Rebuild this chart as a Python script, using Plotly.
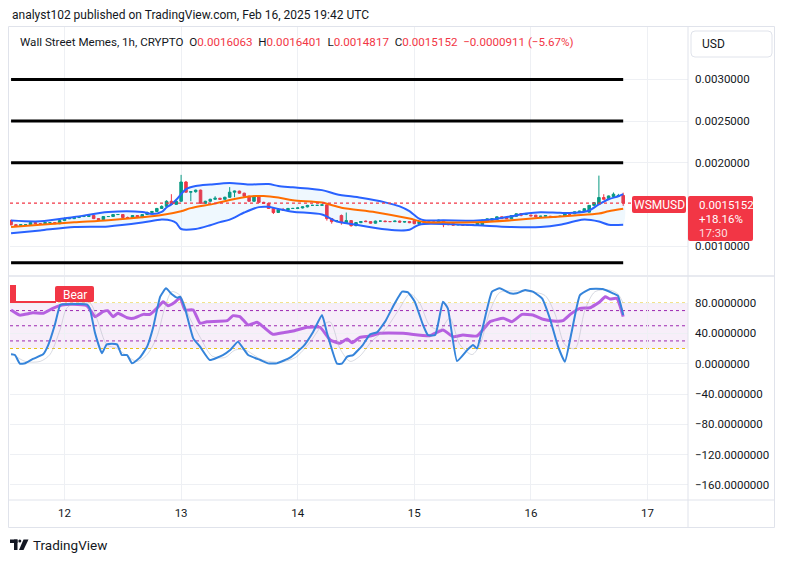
import plotly.graph_objects as go
import pandas as pd

# ---------------- data (prices in micro-units: value * 1e-6) ----------------
DAY0 = pd.Timestamp("2025-02-12 00:00")
FIRST_HOUR = -11  # first candle: 2025-02-11 13:00, hourly candles
U = 1e-6

OPEN_U = [1305,1256,1244,1256,1256,1281,1268,1268,1281,1281,1268,
          1305,1329,1329,1342,1354,1354,1366,1329,1317,1354,
          1354,1378,1378,1342,1342,1366,1342,1378,1402,1415,
          1451,1476,1537,1500,1537,1768,1646,1652,1671,1512,
          1537,1561,1573,1561,1585,1646,1659,1634,1598,1537,
          1598,1524,1512,1451,1402,1439,1433,1451,1451,1457,
          1470,1488,1488,1488,1494,1329,1293,1366,1281,1305,
          1244,1281,1299,1293,1274,1299,1299,1293,1293,1299,
          1287,1293,1305,1268,1293,1287,1287,1287,1299,1274,
          1268,1256,1256,1250,1250,1252,1256,1296,1309,1317,
          1350,1345,1326,1357,1390,1378,1370,1370,1357,1357,
          1357,1350,1357,1357,1378,1387,1406,1418,1406,1488,
          1500,1582,1570,1594,1598,1606.3]
CLOSE_U = [1256,1244,1256,1256,1281,1268,1268,1281,1281,1268,1305,
           1329,1329,1342,1354,1354,1366,1329,1317,1354,1354,
           1378,1378,1342,1342,1366,1342,1378,1402,1415,1451,
           1476,1537,1500,1537,1768,1646,1652,1671,1512,1537,
           1561,1573,1561,1585,1646,1659,1634,1598,1537,1598,
           1524,1512,1451,1402,1439,1433,1451,1451,1457,1470,
           1488,1488,1488,1494,1329,1293,1305,1281,1305,1244,
           1281,1293,1293,1274,1299,1299,1293,1293,1299,1287,
           1293,1281,1268,1293,1287,1287,1287,1311,1256,1256,
           1250,1256,1250,1250,1256,1277,1309,1326,1329,1350,
           1329,1326,1366,1387,1370,1378,1362,1350,1357,1366,
           1354,1350,1357,1387,1378,1411,1418,1448,1488,1521,
           1582,1561,1601,1622,1606,1515.2]
HIGH_U = [1317,1262,1260,1262,1293,1287,1274,1287,1287,1287,1311,
          1342,1342,1354,1360,1360,1372,1372,1335,1360,1360,
          1384,1384,1384,1354,1372,1372,1384,1415,1421,1457,
          1488,1549,1622,1549,1854,1781,1659,1677,1677,1543,
          1567,1598,1579,1592,1707,1665,1665,1640,1604,1604,
          1604,1531,1518,1457,1445,1457,1457,1457,1463,1476,
          1494,1494,1494,1500,1500,1335,1311,1378,1402,1311,
          1287,1299,1305,1299,1305,1305,1305,1299,1305,1305,
          1299,1299,1311,1299,1299,1293,1293,1317,1305,1281,
          1274,1262,1262,1256,1262,1281,1317,1329,1335,1354,
          1354,1350,1370,1390,1396,1384,1378,1374,1362,1370,
          1362,1354,1362,1390,1384,1415,1423,1451,1492,1524,
          1845,1622,1606,1643,1626,1640.1]
LOW_U = [1244,1238,1238,1250,1250,1262,1262,1262,1274,1262,1262,
         1299,1323,1323,1335,1348,1348,1323,1305,1311,1348,
         1348,1372,1335,1335,1335,1335,1335,1372,1396,1409,
         1445,1470,1494,1494,1531,1640,1537,1640,1506,1506,
         1531,1555,1555,1555,1579,1585,1628,1592,1531,1531,
         1518,1506,1445,1384,1396,1421,1427,1445,1445,1451,
         1463,1482,1482,1482,1305,1268,1287,1256,1274,1232,
         1238,1274,1287,1268,1268,1293,1287,1287,1287,1281,
         1281,1274,1262,1262,1281,1281,1281,1281,1226,1250,
         1244,1250,1244,1244,1244,1250,1250,1293,1305,1311,
         1323,1323,1323,1354,1357,1372,1357,1345,1350,1354,
         1350,1345,1354,1354,1372,1382,1402,1415,1402,1484,
         1496,1555,1561,1589,1594,1481.7]

# Bollinger bands (hour offset from Feb 12 00:00, micro-units)
UPPER_H = [-11,-5,2,9,16,18,20,21,22,23,24,25,27,30,34,38,42,44,47,53,
           56,61,66,69,71,72,73,74,78,85,88,92,95,98,102,105,108,110,112,114,115]
UPPER_U = [1305,1296,1348,1409,1409,1384,1409,1463,1500,1555,1622,1683,1720,1738,1756,1738,1744,1720,1704,1671,
           1622,1579,1524,1476,1418,1372,1329,1309,1309,1305,1317,1357,1390,1406,1398,1398,1427,1500,1561,1598,1622]
MID_H = [-11,-5,2,9,16,20,24,26,31,34,38,41,44,47,53,57,64,71,74,78,85,92,98,105,110,112,115]
MID_U = [1228,1256,1284,1309,1345,1372,1418,1455,1509,1552,1594,1601,1582,1549,1521,1460,1406,1329,1287,1284,
         1284,1309,1338,1366,1390,1418,1448]
LOWER_H = [-11,-5,2,9,16,20,22,23,24,27,30,32,34,37,40,42,44,47,53,56,
           59,64,68,71,72,73,74,78,85,92,98,102,105,107,110,112,115]
LOWER_U = [1152,1187,1228,1235,1281,1317,1305,1277,1204,1204,1250,1287,1317,1402,1467,1470,1445,1411,1378,1296,
           1265,1216,1189,1195,1226,1256,1265,1265,1248,1228,1228,1256,1296,1317,1293,1256,1256]

LEVELS = [0.0030, 0.0025, 0.0020, 0.0008]
LAST_PRICE = 0.0015152

# Oscillator pane
RSI_H = [-11,-9.2,-6.5,-4.4,-2.4,-0.5,1.7,4.6,6.3,7.9,8.9,10.0,11.0,12.9,14.1,16.2,17.6,19.0,20.3,21.3,
         22.7,23.8,24.8,26.5,27.9,29.3,33.5,34.7,36.1,37.8,39.6,40.9,42.9,45.0,47.0,49.9,52.6,54.7,56.7,58.2,
         59.2,60.8,62.9,64.9,69.7,75.2,77.9,80.0,82.0,84.9,87.6,90.3,92.1,94.2,96.4,98.5,100.6,102.6,104.1,106.1,
         108.2,110.2,111.3,112.3,113.7,115.0]
RSI_V = [70.8,64,67,66.4,73,77.4,78.3,76.4,62,68.5,69.8,62,66.4,60.6,59.8,65,65,73,81.7,76.4,
         81,87,70.8,70.8,53.2,55.4,56.7,63.3,62,51,54.5,48.7,38.7,40.8,43,48,48,31.2,27,32.6,
         27.7,34.8,36.5,40,40,36.9,44.4,35.6,37.8,36.5,55.4,59.8,55.4,65,64.2,58.5,56.3,56.7,65,73,
         73.8,81.7,88.3,85.3,86.2,62]
K_H = [-11,-10.2,-9.2,-8.1,-6.5,-4.4,-3.4,-2.0,-0.9,-0.3,4.6,5.2,6.3,7.7,8.7,10.8,11.8,12.9,13.9,15.5,
       17.0,18.2,19.7,20.9,22.1,23.2,23.8,24.8,26.5,27.9,29.9,32.6,34.1,35.7,37.8,40.3,41.9,43.7,46.4,49.1,
       51.2,53.0,54.1,56.1,57.1,58.2,59.4,61.4,62.9,64.3,66.0,67.6,69.5,70.7,72.1,73.8,74.8,76.3,77.9,78.9,
       80.8,82.9,84.1,84.9,86.2,88.0,89.6,91.7,93.1,94.8,96.4,98.3,99.9,101.6,103.0,104.4,106.1,108.2,110.8,112.9,
       113.9,115.0]
K_V = [12.3,11.4,0,0.5,6.2,12.3,23.7,51,77.4,78.3,78.3,73,40,13.7,25.5,25.5,11.4,11.4,0.4,7.9,
       22.4,46.6,88.3,99.4,91.5,87,88.3,73,33.4,22.4,4.8,11.4,18,29,11.4,4.8,0.4,0.4,7.9,22.4,
       42.2,64.2,39,0,0,9.2,11.4,24.6,38.7,41.3,55.4,75.1,94.9,94.1,81.7,51,37.8,37.8,81.7,73,
       3.5,18,24.6,20.2,51,94.9,99.4,92.8,92.8,97.1,94.9,86.2,59.8,22.4,2.6,42.2,90.5,98.5,98.5,92.8,
       89.6,64.2]
D_H = [-11,-8.1,-5.0,-3.0,-0.9,0.7,5.2,6.9,8.7,10.8,12.9,14.9,17.0,19.0,20.7,22.1,23.8,25.8,27.9,30.4,
       33.0,35.1,37.2,40.7,44.4,47.5,50.5,53.0,54.7,56.7,58.8,60.8,63.3,66.0,68.7,71.1,73.1,75.2,77.3,79.3,
       81.4,83.9,85.5,87.6,89.6,92.1,95.8,98.9,101.0,103.0,105.1,107.1,109.2,112.3,113.9,115.0]
D_V = [14,3,3,12,45,75,80,55,25,20,10,3,12,35,75,95,90,60,35,10,
       8,18,18,5,2,8,28,50,55,20,3,10,30,45,70,92,80,50,45,60,
       25,12,25,70,94,96,95,90,65,25,20,70,95,97,92,80]

PRICE_TICKS = [0.0010, 0.0020, 0.0025, 0.0030]
OSC_TICKS = [80, 40, 0, -40, -80, -120, -160]
OSC_BANDS = [80, 20]
RSI_LEVELS = [70, 50, 30]

for a, b in [(OPEN_U, CLOSE_U), (HIGH_U, LOW_U), (OPEN_U, HIGH_U), (UPPER_H, UPPER_U), (MID_H, MID_U),
             (LOWER_H, LOWER_U), (RSI_H, RSI_V), (K_H, K_V), (D_H, D_V)]:
    assert len(a) == len(b), (len(a), len(b))

# ---------------- helpers ----------------
def t(h):
    return DAY0 + pd.Timedelta(hours=h)

def ts(hours):
    return [t(h) for h in hours]

def scale(vals):
    return [v * U for v in vals]

times = [t(FIRST_HOUR + i) for i in range(len(CLOSE_U))]

# pixel -> paper helpers for decorations
PL, PR, PT, PB = 10, 688, 27, 500
def px(x):
    return (x - PL) / (PR - PL)
def py(y):
    return (PB - y) / (PB - PT)

def rrect(x0, y0, x1, y1, r=2):
    p = [
        f"M{px(x0 + r)},{py(y0)}", f"L{px(x1 - r)},{py(y0)}",
        f"Q{px(x1)},{py(y0)} {px(x1)},{py(y0 + r)}", f"L{px(x1)},{py(y1 - r)}",
        f"Q{px(x1)},{py(y1)} {px(x1 - r)},{py(y1)}", f"L{px(x0 + r)},{py(y1)}",
        f"Q{px(x0)},{py(y1)} {px(x0)},{py(y1 - r)}", f"L{px(x0)},{py(y0 + r)}",
        f"Q{px(x0)},{py(y0)} {px(x0 + r)},{py(y0)}", "Z"]
    return " ".join(p)

RED = "#F23645"
GREEN = "#089981"
BAND = "#2962FF"
FONT = "Roboto"
TXT = "#131722"
GRID = "#eef0f4"
BORDER = "#e0e3eb"

fig = go.Figure()

# Bollinger fill
fig.add_trace(go.Scatter(
    x=ts(UPPER_H) + ts(LOWER_H[::-1]), y=scale(UPPER_U) + scale(LOWER_U[::-1]),
    mode="lines", fill="toself", fillcolor="rgba(33,150,243,0.07)",
    line=dict(width=0, shape="spline", smoothing=0.8), hoverinfo="skip", xaxis="x", yaxis="y"))

fig.add_trace(go.Candlestick(
    x=times, open=scale(OPEN_U), high=scale(HIGH_U), low=scale(LOW_U), close=scale(CLOSE_U),
    increasing=dict(line=dict(color=GREEN, width=1), fillcolor=GREEN),
    decreasing=dict(line=dict(color=RED, width=1), fillcolor=RED),
    whiskerwidth=0, xaxis="x", yaxis="y", hoverinfo="skip"))

for hh, vv in [(UPPER_H, UPPER_U), (LOWER_H, LOWER_U)]:
    fig.add_trace(go.Scatter(x=ts(hh), y=scale(vv), mode="lines",
                             line=dict(color=BAND, width=2, shape="spline", smoothing=0.8),
                             hoverinfo="skip", xaxis="x", yaxis="y"))
fig.add_trace(go.Scatter(x=ts(MID_H), y=scale(MID_U), mode="lines",
                         line=dict(color="#FF6D00", width=2, shape="spline", smoothing=0.8),
                         hoverinfo="skip", xaxis="x", yaxis="y"))

for lv in LEVELS:
    fig.add_trace(go.Scatter(x=[times[0], times[-1]], y=[lv, lv], mode="lines",
                             line=dict(color="#000000", width=3), hoverinfo="skip",
                             xaxis="x", yaxis="y"))

# Oscillator
fig.add_trace(go.Scatter(x=ts(RSI_H), y=RSI_V, mode="lines",
                         line=dict(color="#B660E0", width=3, shape="spline", smoothing=0.4),
                         hoverinfo="skip", xaxis="x", yaxis="y2"))
fig.add_trace(go.Scatter(x=ts(D_H), y=D_V, mode="lines",
                         line=dict(color="rgba(170,175,190,0.45)", width=1, shape="spline", smoothing=0.8),
                         hoverinfo="skip", xaxis="x", yaxis="y2"))
fig.add_trace(go.Scatter(x=ts(K_H), y=K_V, mode="lines",
                         line=dict(color="#3584DA", width=2, shape="spline", smoothing=0.4),
                         hoverinfo="skip", xaxis="x", yaxis="y2"))

shapes = []
shapes.append(dict(type="rect", xref="paper", yref="y2", x0=0, x1=1, y0=OSC_BANDS[1], y1=OSC_BANDS[0],
                   fillcolor="rgba(156,39,176,0.08)", line=dict(width=0), layer="between"))
for lv in OSC_BANDS:
    shapes.append(dict(type="line", xref="paper", yref="y2", x0=0, x1=1, y0=lv, y1=lv,
                       line=dict(color="#E8C21A", width=1, dash="dot"), layer="between"))
for lv in RSI_LEVELS:
    shapes.append(dict(type="line", xref="paper", yref="y2", x0=0, x1=1, y0=lv, y1=lv,
                       line=dict(color="#9C27B0", width=1, dash="dot"), layer="between"))
shapes.append(dict(type="line", xref="paper", yref="y", x0=px(10), x1=px(632), y0=LAST_PRICE, y1=LAST_PRICE,
                   line=dict(color=RED, width=1.3, dash="dot"), layer="above"))
shapes.append(dict(type="rect", xref="paper", yref="paper", x0=px(8.5), x1=px(774.5), y0=py(26.5), y1=py(527.5),
                   line=dict(color=BORDER, width=1), layer="above"))
shapes.append(dict(type="line", xref="paper", yref="paper", x0=px(688), x1=px(688), y0=py(26.5), y1=py(527.5),
                   line=dict(color=BORDER, width=1), layer="above"))
shapes.append(dict(type="line", xref="paper", yref="paper", x0=px(8.5), x1=px(774.5), y0=py(500), y1=py(500),
                   line=dict(color=BORDER, width=1), layer="above"))
shapes.append(dict(type="line", xref="paper", yref="paper", x0=px(8.5), x1=px(774.5), y0=py(276), y1=py(276),
                   line=dict(color=BORDER, width=1.5), layer="above"))
shapes.append(dict(type="path", xref="paper", yref="paper", path=rrect(691, 31, 772, 57, 4),
                   line=dict(color=BORDER, width=1), fillcolor="white", layer="above"))
shapes.append(dict(type="path", xref="paper", yref="paper", path=rrect(632, 196, 686, 213, 2),
                   line=dict(width=0), fillcolor=RED, layer="above"))
shapes.append(dict(type="path", xref="paper", yref="paper", path=rrect(688, 196, 753, 241, 2),
                   line=dict(width=0), fillcolor=RED, layer="above"))
shapes.append(dict(type="path", xref="paper", yref="paper", path=rrect(55, 286, 94, 302, 2),
                   line=dict(width=0), fillcolor=RED, layer="above"))
shapes.append(dict(type="rect", xref="paper", yref="paper", x0=px(10), x1=px(16), y0=py(285), y1=py(302),
                   line=dict(width=0), fillcolor=RED, layer="above"))
shapes.append(dict(type="line", xref="paper", yref="paper", x0=px(10), x1=px(56), y0=py(302), y1=py(302),
                   line=dict(color=RED, width=2), layer="above"))
shapes.append(dict(type="rect", xref="paper", yref="paper", x0=px(10), x1=px(17.5), y0=py(539.5), y1=py(543),
                   line=dict(width=0), fillcolor=TXT, layer="above"))
shapes.append(dict(type="rect", xref="paper", yref="paper", x0=px(14), x1=px(17.5), y0=py(539.5), y1=py(550),
                   line=dict(width=0), fillcolor=TXT, layer="above"))
shapes.append(dict(type="circle", xref="paper", yref="paper", x0=px(18.3), x1=px(21.3), y0=py(539.5), y1=py(542.5),
                   line=dict(width=0), fillcolor=TXT, layer="above"))
shapes.append(dict(type="path", xref="paper", yref="paper",
                   path=f"M{px(23.5)},{py(539.5)} L{px(28.5)},{py(539.5)} L{px(23.5)},{py(550)} L{px(19)},{py(550)} Z",
                   line=dict(width=0), fillcolor=TXT, layer="above"))

def ann(x, y, text, size=11, color=TXT, xanchor="left", family=FONT):
    return dict(xref="paper", yref="paper", x=px(x), y=py(y), text=text, showarrow=False,
                xanchor=xanchor, yanchor="middle", font=dict(family=family, size=size, color=color))

def red(s):
    return f"<span style='color:{RED}'>{s}</span>"

sp = "&nbsp;&nbsp;"
legend_text = ("Wall Street Memes, 1h, CRYPTO" + sp + "O" + red("0.0016063") + sp + "H" + red("0.0016401") + sp +
               "L" + red("0.0014817") + sp + "C" + red("0.0015152") + sp + red("\u22120.0000911 (\u22125.67%)"))

annotations = [
    ann(10, 15, "analyst102 published on TradingView.com, Feb 16, 2025 19:42 UTC", size=12),
    ann(18, 42, legend_text, size=11.6),
    ann(700, 44, "USD", size=12),
    ann(659, 204.5, "WSMUSD", size=12, color="white", xanchor="center"),
    ann(697, 205, "0.0015152", size=11.5, color="white"),
    ann(697, 219, "+18.16%", size=11.5, color="white"),
    ann(697, 233, "17:30", size=11.5, color="rgba(255,255,255,0.85)"),
    ann(74.5, 294.5, "Bear", size=12, color="white", xanchor="center"),
    ann(31, 545, "TradingView", size=13.5, color=TXT),
]

fig.update_layout(
    width=785, height=562, autosize=False,
    margin=dict(l=PL, r=785 - PR, t=PT, b=562 - PB, pad=0),
    paper_bgcolor="white", plot_bgcolor="white", showlegend=False, hovermode=False,
    font=dict(family=FONT, size=11, color=TXT),
    boxgap=0.25,
    xaxis=dict(type="date", range=[t(-11.22), t(128.34)], anchor="y2",
               tickformat="%-d", dtick=86400000, tick0="2025-02-12",
               showgrid=True, gridcolor=GRID, gridwidth=1, zeroline=False, showline=False, ticks="",
               rangeslider=dict(visible=False), tickfont=dict(size=11.5), ticklabelstandoff=4),
    yaxis=dict(domain=[py(275), 1], range=[0.000652, 0.003629], side="right", tickvals=PRICE_TICKS,
               tickformat=".7f", showgrid=True, gridcolor=GRID, zeroline=False, showline=False, ticks="",
               ticklabelstandoff=6, tickfont=dict(size=11.5)),
    yaxis2=dict(domain=[0, py(277)], range=[-179.8, 114.3], side="right", tickvals=OSC_TICKS,
                tickformat=".7f", showgrid=True, gridcolor=GRID, zeroline=False, showline=False, ticks="",
                ticklabelstandoff=6, tickfont=dict(size=11.5)),
    shapes=shapes, annotations=annotations,
)

fig.write_html("out.html")
